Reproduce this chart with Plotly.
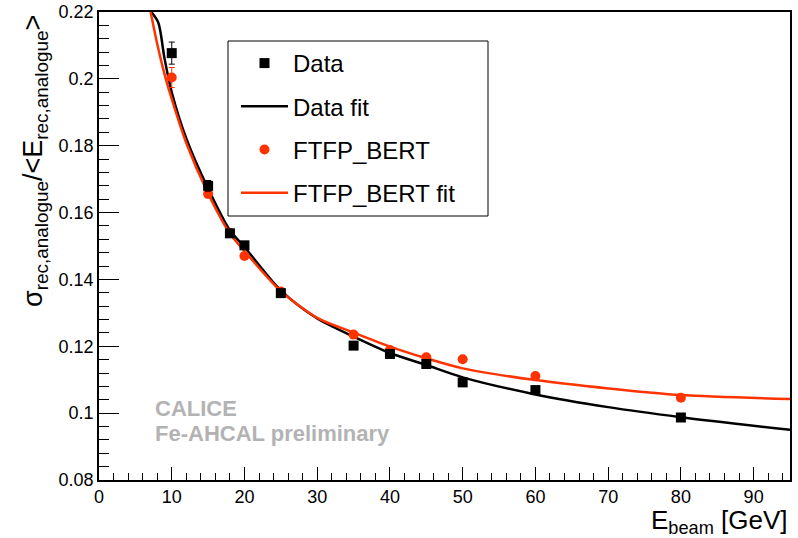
import plotly.graph_objects as go

# ---- data ----
e_beam = [10, 15, 18, 20, 25, 35, 40, 45, 50, 60, 80]
data_res = [0.2077, 0.1680, 0.1538, 0.1502, 0.1359, 0.1202, 0.1177, 0.1147, 0.1092, 0.1069, 0.0987]
data_err = [0.0033, 0.0016, 0.0010, 0.0010, 0.0008, 0.0007, 0.0006, 0.0006, 0.0006, 0.0006, 0.0006]
ftfp_res = [0.2004, 0.1656, 0.1540, 0.1470, 0.1364, 0.1235, 0.1189, 0.1167, 0.1161, 0.1111, 0.1046]
ftfp_err = [0.0030, 0.0012, 0.0008, 0.0008, 0.0007, 0.0006, 0.0006, 0.0006, 0.0006, 0.0006, 0.0006]

data_fit_e = [7.2, 8.16, 9, 10, 12, 15, 18, 20, 25, 30, 35, 40, 45, 50, 60, 70, 80, 95]
data_fit_v = [0.2200, 0.2168, 0.2062, 0.1960, 0.1822, 0.1672, 0.1547, 0.1497, 0.1367, 0.1283,
              0.1229, 0.1180, 0.1144, 0.1107, 0.1056, 0.1018, 0.0988, 0.0950]
ftfp_fit_e = [7.1, 8, 9, 10, 12, 15, 18, 20, 25, 30, 35, 40, 45, 50, 60, 70, 80, 95]
ftfp_fit_v = [0.2200, 0.2105, 0.2015, 0.1940, 0.1808, 0.1657, 0.1537, 0.1485, 0.1365, 0.1285,
              0.1241, 0.1199, 0.1164, 0.1134, 0.1099, 0.1074, 0.1054, 0.1042]

x_ticks = [0, 10, 20, 30, 40, 50, 60, 70, 80, 90]
y_ticks = [0.08, 0.10, 0.12, 0.14, 0.16, 0.18, 0.20, 0.22]
y_tick_text = ["0.08", "0.1", "0.12", "0.14", "0.16", "0.18", "0.2", "0.22"]

BLACK = "#000000"
RED = "#ff3300"
FONT = "Liberation Sans"

fig = go.Figure()
fig.add_trace(go.Scatter(x=data_fit_e, y=data_fit_v, mode="lines", name="Data fit",
                         line=dict(color=BLACK, width=2.5, shape="spline", smoothing=0.8),
                         legendrank=2, legendgroup="b"))
fig.add_trace(go.Scatter(x=ftfp_fit_e, y=ftfp_fit_v, mode="lines", name="FTFP_BERT fit",
                         line=dict(color=RED, width=2.5, shape="spline", smoothing=0.8),
                         legendrank=4, legendgroup="d"))
fig.add_trace(go.Scatter(x=e_beam, y=ftfp_res, mode="markers", name="FTFP_BERT",
                         marker=dict(symbol="circle", size=10, color=RED),
                         error_y=dict(type="data", array=ftfp_err, color=RED, thickness=1, width=3),
                         legendrank=3, legendgroup="c"))
fig.add_trace(go.Scatter(x=e_beam, y=data_res, mode="markers", name="Data",
                         marker=dict(symbol="square", size=10, color=BLACK),
                         error_y=dict(type="data", array=data_err, color=BLACK, thickness=1, width=3),
                         legendrank=1, legendgroup="a"))

W, H = 798, 538
L, R, T, B = 99, 8, 12, 58
pw, ph = W - L - R, H - T - B


def px(x):
    return (x - L) / pw


def py(y):
    return (H - B - y) / ph


fig.update_layout(
    width=W, height=H,
    margin=dict(l=L, r=R, t=T, b=B, autoexpand=False),
    paper_bgcolor="white", plot_bgcolor="white",
    font=dict(family=FONT, color="black", size=18),
    showlegend=True,
    legend=dict(x=px(236), y=py(41), xanchor="left", yanchor="top",
                bgcolor="rgba(0,0,0,0)", borderwidth=0,
                font=dict(family=FONT, size=24, color="black"),
                tracegroupgap=9, itemwidth=47),
    shapes=[dict(type="rect", xref="paper", yref="paper",
                 x0=px(228), x1=px(488), y0=py(216), y1=py(41),
                 line=dict(color="black", width=1), fillcolor="white", layer="above")],
    annotations=[
        dict(text="σ<sub>rec,analogue</sub>/&lt;E<sub>rec,analogue</sub>&gt;",
             xref="paper", yref="paper", x=px(35), y=py(161), textangle=-90,
             xanchor="center", yanchor="middle", showarrow=False,
             font=dict(family=FONT, size=27, color="black")),
        dict(text="E<sub>beam</sub> [GeV]", xref="paper", yref="paper",
             x=1.0, y=py(521), xanchor="right", yanchor="middle", showarrow=False,
             font=dict(family=FONT, size=26, color="black")),
        dict(text="<b>CALICE</b>", xref="paper", yref="paper", x=px(153), y=py(408),
             xanchor="left", yanchor="middle", showarrow=False,
             font=dict(family=FONT, size=22, color="#b3b3b3")),
        dict(text="<b>Fe-AHCAL preliminary</b>", xref="paper", yref="paper", x=px(153), y=py(433),
             xanchor="left", yanchor="middle", showarrow=False,
             font=dict(family=FONT, size=22, color="#b3b3b3")),
    ],
)

fig.update_xaxes(range=[0, 95], showgrid=False, zeroline=False, automargin=False,
                 showline=True, linecolor="black", linewidth=1.5, mirror=True,
                 ticks="inside", ticklen=13, tickwidth=1, tickcolor="black",
                 tickvals=x_ticks, ticktext=[str(v) for v in x_ticks],
                 tickfont=dict(family=FONT, size=18, color="black"),
                 minor=dict(dtick=2, ticks="inside", ticklen=7, tickcolor="black", tickwidth=1, showgrid=False))
fig.update_yaxes(range=[0.08, 0.22], showgrid=False, zeroline=False, automargin=False,
                 showline=True, linecolor="black", linewidth=1.5, mirror=True,
                 ticks="inside", ticklen=20, tickwidth=1, tickcolor="black",
                 tickvals=y_ticks, ticktext=y_tick_text,
                 tickfont=dict(family=FONT, size=18, color="black"),
                 minor=dict(dtick=0.004, tick0=0.08, ticks="inside", ticklen=10, tickcolor="black", tickwidth=1, showgrid=False))

fig.write_html("out.html", config={"displayModeBar": False},
               post_script="document.body.style.margin='0px';document.body.style.overflow='hidden';")
